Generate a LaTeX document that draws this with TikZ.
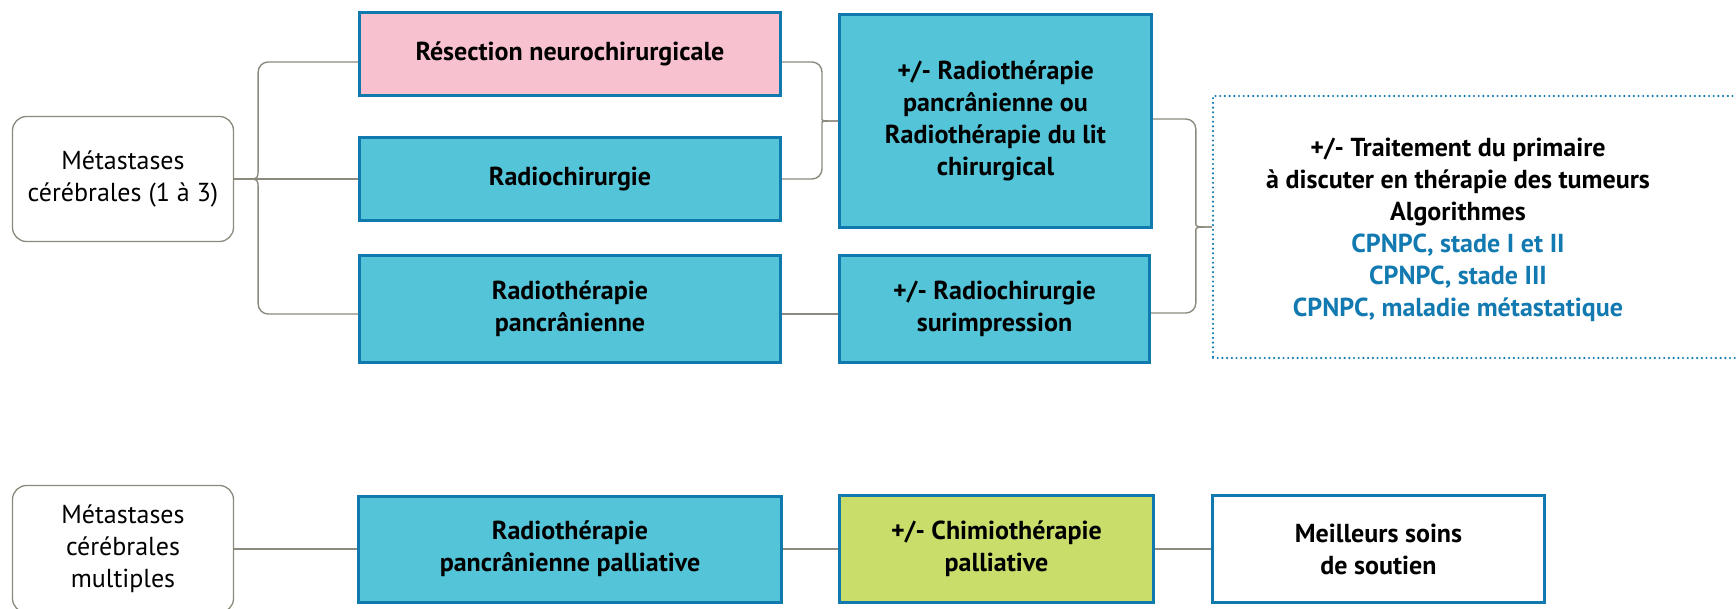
\documentclass[tikz,border=0pt]{standalone}
\usepackage{fontspec}
\setmainfont{PT Sans}
\definecolor{cyanf}{RGB}{84,196,216}
\definecolor{bord}{RGB}{16,122,174}
\definecolor{pinkf}{RGB}{248,193,207}
\definecolor{greenf}{RGB}{201,221,107}
\definecolor{linegray}{RGB}{140,138,126}
\definecolor{bluet}{RGB}{18,122,176}
\tikzset{
  txt/.style={align=center, font=\fontsize{26}{32}\selectfont\bfseries},
  boxbase/.style={rectangle, draw=bord, line width=3pt, inner sep=0pt, txt},
  cbox/.style={boxbase, fill=cyanf},
  pbox/.style={boxbase, fill=pinkf},
  gbox/.style={boxbase, fill=greenf},
  wbox/.style={boxbase, fill=white},
  lbox/.style={rectangle, rounded corners=14pt, draw=linegray, line width=1.3pt, fill=white, inner sep=0pt, align=center, font=\fontsize{26}{32}\selectfont},
  dotbox/.style={rectangle, draw=bluet, line width=2.4pt, line cap=round, dash pattern=on 0pt off 4.7pt, inner sep=0pt},
  conn/.style={draw=linegray, line width=1.4pt},
}
\begin{document}
\begin{tikzpicture}[x=1pt,y=-1pt]
\useasboundingbox (0,0) rectangle (1736,608);
\clip (0,0) rectangle (1736,608);
% top section
\node[lbox, minimum width=221, minimum height=125] (L1) at (123,179) {Métastases\\cérébrales (1 à 3)};
\node[pbox, minimum width=421, minimum height=83] (B1) at (570,54) {Résection neurochirurgicale};
\node[cbox, minimum width=421, minimum height=83] (B2) at (570,179) {Radiochirurgie};
\node[cbox, minimum width=421, minimum height=107] (B3) at (570,309) {Radiothérapie\\pancrânienne};
\node[cbox, minimum width=312, minimum height=213] (C1) at (995.5,121) {+/- Radiothérapie\\pancrânienne ou\\Radiothérapie du lit\\chirurgical};
\node[cbox, minimum width=310, minimum height=107] (C2) at (994.5,309) {+/- Radiochirurgie\\surimpression};
\node[dotbox, minimum width=540, minimum height=262] (D) at (1483,227) {};
\node[txt] (Dt) at (1458,230) {+/- Traitement du primaire\\à discuter en thérapie des tumeurs\\Algorithmes\\\textcolor{bluet}{CPNPC, stade I et II}\\\textcolor{bluet}{CPNPC, stade III}\\\textcolor{bluet}{CPNPC, maladie métastatique}};
% left brace
\coordinate (j0) at ([xshift=12pt]L1.east);
\coordinate (k0) at ([xshift=24pt]L1.east);
\draw[conn] (L1.east) -- (B2.west);
\draw[conn] (j0) .. controls (k0) .. ([yshift=12pt]k0) [rounded corners=10pt] |- ([yshift=-8pt]B1.west);
\draw[conn] (j0) .. controls (k0) .. ([yshift=-12pt]k0) [rounded corners=10pt] |- ([yshift=-5pt]B3.west);
% right brace 1
\coordinate (k1) at ([xshift=-16pt]C1.west);
\draw[conn] ([yshift=-8pt]B1.east) [rounded corners=10pt] -| ([yshift=12pt]k1) [sharp corners] .. controls (k1) .. (C1.west);
\draw[conn] (B2.east) [rounded corners=10pt] -| ([yshift=-12pt]k1) [sharp corners] .. controls (k1) .. (C1.west);
% right brace 2
\coordinate (k2) at ([xshift=-16pt]D.west);
\draw[conn] ([yshift=2pt]C1.east) [rounded corners=10pt] -| ([yshift=14pt]k2) [sharp corners] .. controls (k2) .. (D.west);
\draw[conn] ([yshift=-4pt]C2.east) [rounded corners=10pt] -| ([yshift=-14pt]k2) [sharp corners] .. controls (k2) .. (D.west);
\draw[conn] ([yshift=-5pt]B3.east) -- ([yshift=-5pt]C2.west);
% bottom section
\node[lbox, minimum width=221, minimum height=127] (M1) at (123,549) {Métastases\\cérébrales\\multiples};
\node[cbox, minimum width=423, minimum height=106] (M2) at (570,549) {Radiothérapie\\pancrânienne palliative};
\node[gbox, minimum width=314, minimum height=107] (M3) at (996.5,549) {+/- Chimiothérapie\\palliative};
\node[wbox, minimum width=332, minimum height=107] (M4) at (1378.5,549) {Meilleurs soins\\de soutien};
\draw[conn] (M1.east) -- (M2.west);
\draw[conn] (M2.east) -- (M3.west);
\draw[conn] (M3.east) -- (M4.west);
\end{tikzpicture}
\end{document}
